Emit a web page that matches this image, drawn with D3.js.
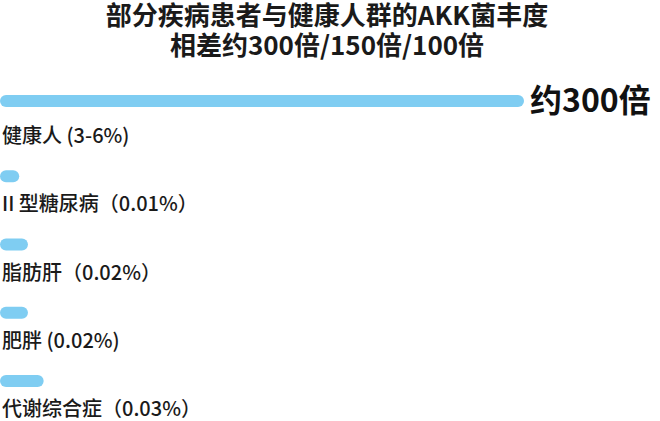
<!DOCTYPE html>
<html>
<head>
<meta charset="utf-8">
<script src="https://cdn.jsdelivr.net/npm/d3@7"></script>
<style>
	html, body { margin: 0; padding: 0; background: #fff; }
	svg { display: block; font-family: "Noto Sans CJK SC", "Noto Sans", sans-serif; }
</style>
</head>
<body>
<div id="chart"></div>
<script>

// data (bar lengths are illustrative, as in the original)
const titleLines = ['部分疾病患者与健康人群的AKK菌丰度', '相差约300倍/150倍/100倍'];
const categories = ['健康人 (3-6%)', 'II 型糖尿病（0.01%）', '脂肪肝（0.02%）', '肥胖 (0.02%)', '代谢综合症（0.03%）'];
const barValues = [300, 11, 16, 16, 25];
const callout = '约300倍';

const w_svg = 660;
const h_svg = 421;
const barH = 12;

const svg = d3.select('#chart')
	.append('svg')
	.attr('width', w_svg)
	.attr('height', h_svg);

////////////////////////////////////////////////////////////////////

svg.selectAll('.title')
	.data(titleLines)
	.enter()
	.append('text')
	.attr('class', 'title')
	.attr('x', 327)
	.attr('y', (d, i) => 16 + i * 30)
	.attr('dy', '0.35em')
	.attr('text-anchor', 'middle')
	.style('font-size', '26px')
	.style('font-weight', 700)
	.attr('fill', '#1a1a1a')
	.text(d => d);

////////////////////////////////////////////////////////////////////

const scaleX = d3.scaleLinear().domain([0, 300]).range([0, 524]);
const scaleY = d3.scalePoint().domain(categories).range([136, 409]);

// bar sits above its label; the first (reference) bar a bit higher
const barY = (d, i) => scaleY(d) - (i === 0 ? 35 : 28) - barH / 2;

const plot = svg.append('g').attr('class', 'plot');

plot.selectAll('.bar')
	.data(categories)
	.enter()
	.append('rect')
	.attr('class', 'bar')
	.attr('x', 0)
	.attr('y', barY)
	.attr('width', (d, i) => scaleX(barValues[i]))
	.attr('height', barH)
	.attr('rx', barH / 2)
	.attr('fill', '#7fcdf2');

plot.selectAll('.label')
	.data(categories)
	.enter()
	.append('text')
	.attr('class', 'label')
	.attr('x', 2)
	.attr('y', d => scaleY(d))
	.attr('dy', '0.35em')
	.style('font-size', '20px')
	.style('font-weight', 500)
	.attr('fill', '#1a1a1a')
	.text(d => d);

plot.append('text')
	.attr('class', 'callout')
	.attr('x', scaleX(barValues[0]) + 6)
	.attr('y', barY(categories[0], 0) + barH / 2)
	.attr('dy', '0.35em')
	.style('font-size', '32px')
	.style('font-weight', 700)
	.attr('fill', '#111')
	.text(callout);

</script>
</body>
</html>
